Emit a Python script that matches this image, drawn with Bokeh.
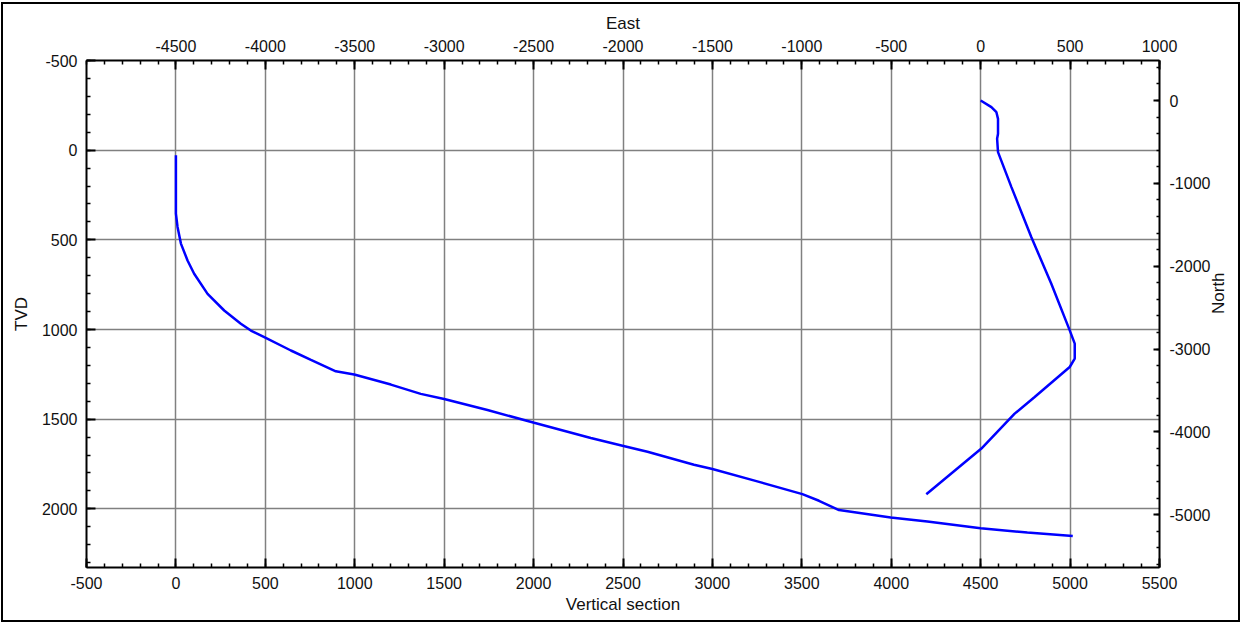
import math
from bokeh.plotting import figure
from bokeh.models import Range1d, LinearAxis, FixedTicker, PrintfTickFormatter, InlineStyleSheet
from bokeh.embed import file_html
from bokeh.resources import INLINE

# ---- data ----
# Vertical section (x) vs TVD (y)
vs = [0, 0, 9, 28, 65, 102, 177, 270, 363, 419, 494, 643, 755, 894, 997, 1202,
      1369, 1500, 1742, 2003, 2320, 2497, 2637, 2897, 3000, 3251, 3503, 3596,
      3708, 3997, 4202, 4500, 4761, 5015]
tvd = [28, 354, 428, 521, 615, 689, 801, 894, 968, 1006, 1043, 1117, 1169, 1233,
       1251, 1307, 1359, 1387, 1449, 1520, 1605, 1648, 1682, 1754, 1778, 1847,
       1918, 1955, 2007, 2048, 2071, 2108, 2132, 2151]

# Plan view: East (x) vs North (y)
east = [0, 60, 88, 97, 97, 92, 97, 172, 283, 395, 498, 526, 526, 498, 302, 190, 4, -304]
north = [0, -80, -141, -221, -402, -462, -623, -1045, -1648, -2211, -2774, -2934,
         -3115, -3216, -3578, -3779, -4200, -4752]

vs_ticks = [-500, 0, 500, 1000, 1500, 2000, 2500, 3000, 3500, 4000, 4500, 5000, 5500]
tvd_ticks = [-500, 0, 500, 1000, 1500, 2000]
east_ticks = [-4500, -4000, -3500, -3000, -2500, -2000, -1500, -1000, -500, 0, 500, 1000]
north_ticks = [0, -1000, -2000, -3000, -4000, -5000]

FONT = "Liberation Sans"
TICK_SIZE = "16px"
LABEL_SIZE = "17px"

p = figure(width=1240, height=622, output_backend="svg", toolbar_location=None,
           x_range=Range1d(-500, 5500), y_range=Range1d(2327, -500),
           x_axis_label="Vertical section", y_axis_label="TVD",
           min_border_left=86, min_border_right=81, min_border_top=60, min_border_bottom=55)
p.extra_x_ranges = {"east": Range1d(-5000, 1000)}
p.extra_y_ranges = {"north": Range1d(-5636, 483)}

p.background_fill_color = "white"
p.border_fill_color = "white"
p.outline_line_color = None
p.stylesheets = [InlineStyleSheet(css=(
    ":host::after { content: ''; position: absolute; left: 1px; top: 2px; "
    "width: 1235px; height: 616px; border: 2px solid black; "
    "pointer-events: none; z-index: 1000; box-sizing: content-box; }"))]

bottom_axis = p.below[0]
left_axis = p.left[0]
top_axis = LinearAxis(x_range_name="east", axis_label="East")
right_axis = LinearAxis(y_range_name="north", axis_label="North")
p.add_layout(top_axis, "above")
p.add_layout(right_axis, "right")

def minor(lo, hi, step):
    out = []
    v = lo
    while v <= hi + 1e-9:
        out.append(v)
        v += step
    return out

bottom_axis.ticker = FixedTicker(ticks=vs_ticks, minor_ticks=minor(-500, 5500, 100))
left_axis.ticker = FixedTicker(ticks=tvd_ticks, minor_ticks=minor(-500, 2300, 100))
top_axis.ticker = FixedTicker(ticks=east_ticks, minor_ticks=minor(-5000, 1000, 100))
right_axis.ticker = FixedTicker(ticks=north_ticks, minor_ticks=minor(-5600, 400, 200))

for ax in [bottom_axis, left_axis, top_axis, right_axis]:
    ax.formatter = PrintfTickFormatter(format="%d")
    ax.axis_line_color = "black"
    ax.axis_line_width = 2
    ax.major_tick_line_color = "black"
    ax.minor_tick_line_color = "black"
    ax.major_tick_line_width = 2
    ax.minor_tick_line_width = 1.5
    ax.major_tick_out = 0
    ax.minor_tick_out = 0
    ax.major_tick_in = 9
    ax.minor_tick_in = 4
    ax.major_label_text_font = FONT
    ax.major_label_text_font_size = TICK_SIZE
    ax.major_label_text_color = "#111111"
    ax.axis_label_text_font = FONT
    ax.axis_label_text_font_size = LABEL_SIZE
    ax.axis_label_text_font_style = "normal"
    ax.axis_label_text_color = "#111111"

right_axis.major_tick_in = 6
right_axis.minor_tick_in = 3
right_axis.axis_label_orientation = math.pi / 2

bottom_axis.major_label_standoff = 9
bottom_axis.axis_label_standoff = 3
left_axis.major_label_standoff = 9
left_axis.axis_label_standoff = 8
top_axis.major_label_standoff = 9
top_axis.axis_label_standoff = 4
right_axis.major_label_standoff = 10
right_axis.axis_label_standoff = 5

p.xgrid.ticker = FixedTicker(ticks=vs_ticks)
p.ygrid.ticker = FixedTicker(ticks=tvd_ticks)
for g in [p.xgrid[0], p.ygrid[0]]:
    g.grid_line_color = "#808080"
    g.grid_line_width = 1.5

p.line(vs, tvd, line_color="#0000ff", line_width=2.5)
p.line(east, north, line_color="#0000ff", line_width=2.5,
       x_range_name="east", y_range_name="north")

open("out.html", "w").write(file_html(p, INLINE))
